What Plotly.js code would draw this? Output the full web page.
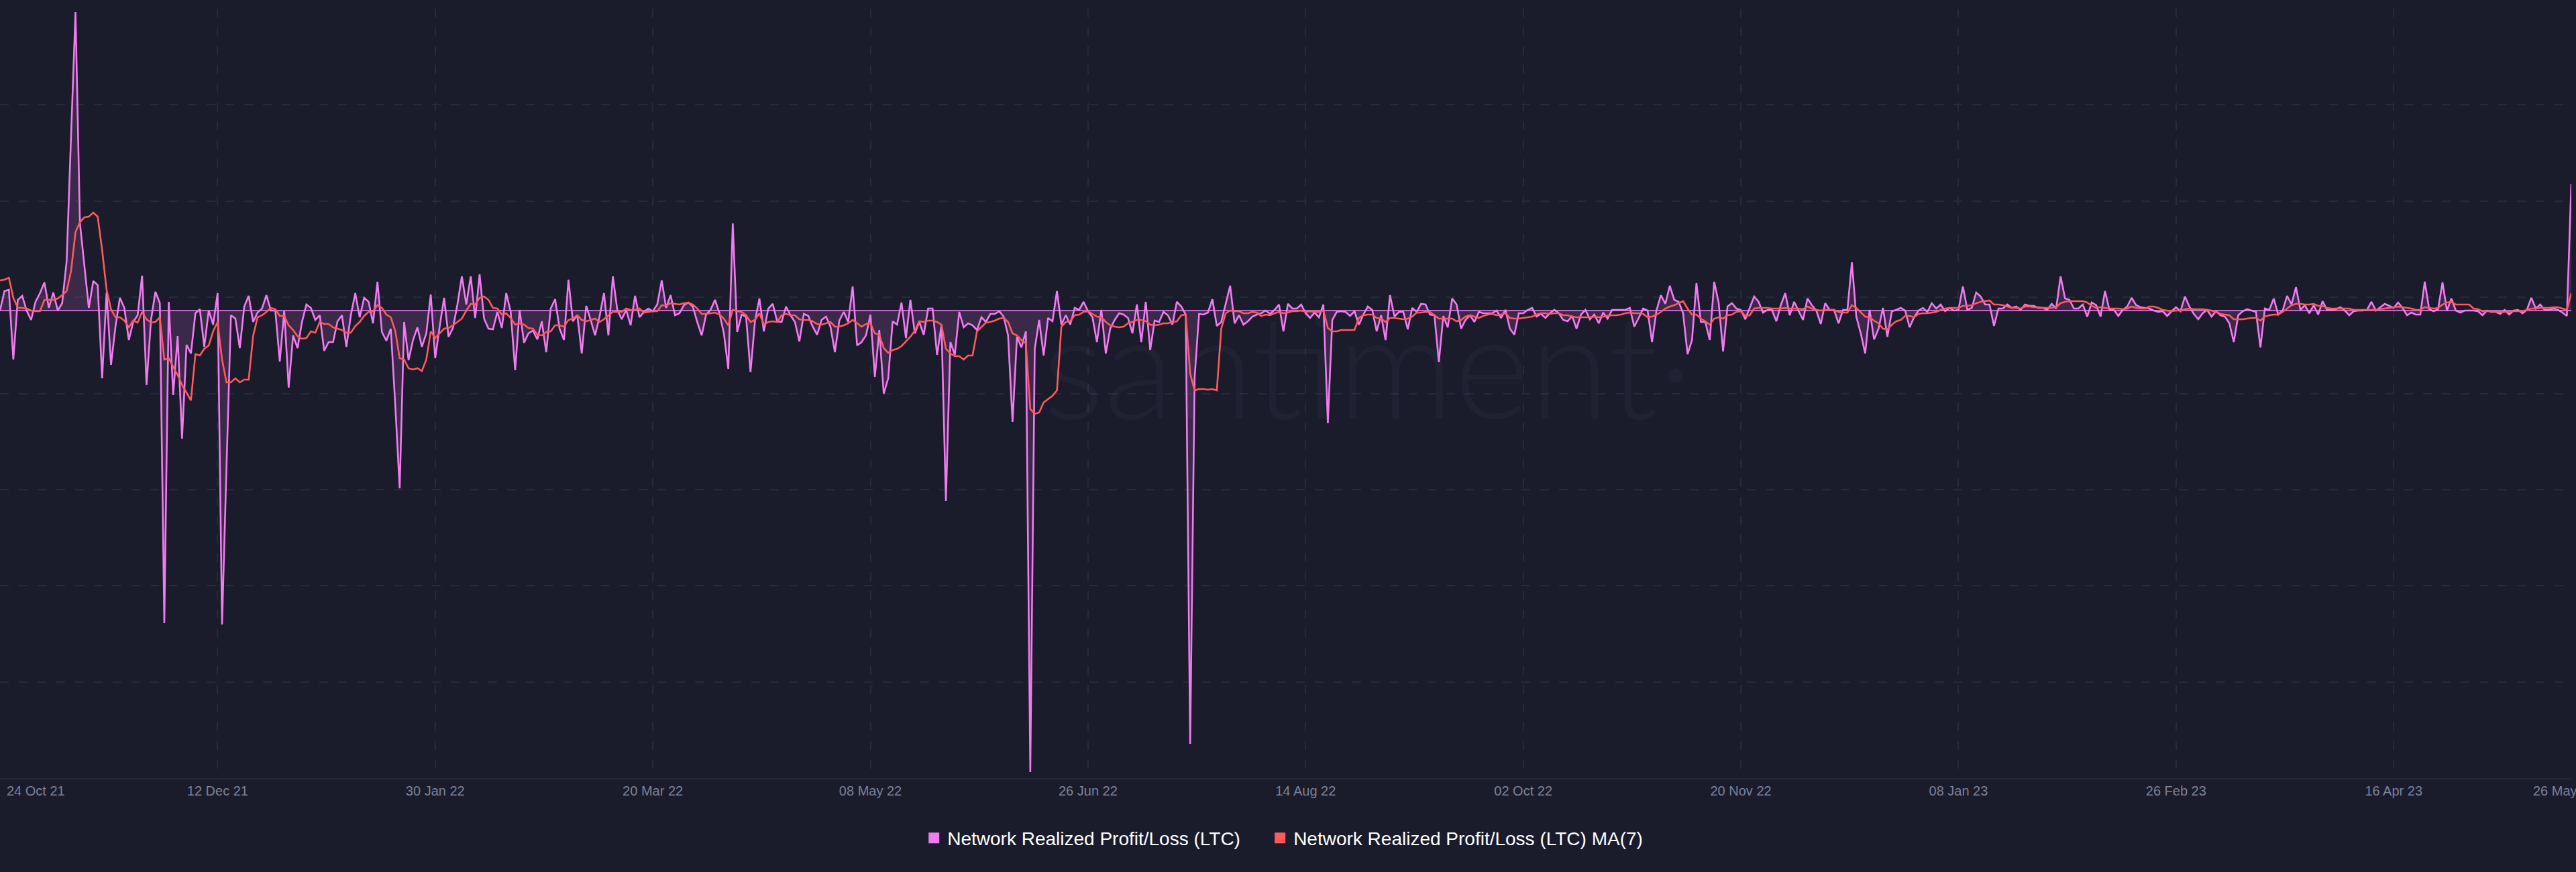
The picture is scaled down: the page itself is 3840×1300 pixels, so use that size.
<!DOCTYPE html>
<html>
<head>
<meta charset="utf-8">
<script src="https://cdn.plot.ly/plotly-3.0.1.min.js"></script>
<style>
html,body{margin:0;padding:0;background:#1a1c2c;}
#chart{width:3840px;height:1300px;}
</style>
</head>
<body>
<div id="chart"></div>
<script>
// ---- data ----
const startDate = '2021-10-24';   // first daily point
const dayCount = 580;              // daily points up to 26 May 23

const tickDates = ['2021-10-24','2021-12-12','2022-01-30','2022-03-20','2022-05-08','2022-06-26','2022-08-14','2022-10-02','2022-11-20','2023-01-08','2023-02-26','2023-04-16'];
const tickLabels = ['24 Oct 21','12 Dec 21','30 Jan 22','20 Mar 22','08 May 22','26 Jun 22','14 Aug 22','02 Oct 22','20 Nov 22','08 Jan 23','26 Feb 23','16 Apr 23'];
const lastLabel = '26 May 23';

const seriesNames = ['Network Realized Profit/Loss (LTC)', 'Network Realized Profit/Loss (LTC) MA(7)'];

// Network Realized Profit/Loss (LTC), daily (relative units)
const profitLoss = [
 0,0.29,0.31,-0.73,0.16,0.22,0,-0.14,0.13,0.26,
 0.42,0.04,0.27,0,0.11,0.73,2.6,4.45,1.3,0.69,
 0.04,0.44,0.38,-1.01,0.27,-0.81,-0.24,0.19,0.04,-0.44,
 -0.17,-0.07,0.52,-1.11,-0.14,0.28,0.11,-4.66,0.13,-1.26,
 -0.38,-1.91,-0.51,-0.64,-0.04,0.02,-0.54,0,-0.21,0.26,
 -4.68,-2.34,-0.07,-0.12,-0.56,0.06,0.22,-0.17,-0.03,0.03,
 0.23,0,0,-0.76,0,-1.15,-0.37,-0.56,-0.17,0.09,
 0.04,-0.14,-0.07,-0.6,-0.47,-0.47,-0.16,-0.07,-0.54,-0.07,
 0.26,-0.1,0.19,0.13,-0.19,0.43,-0.32,-0.45,-0.27,-1.4,
 -2.65,-0.17,-0.74,-0.44,-0.25,-0.54,-0.34,0.24,-0.71,-0.24,
 0.19,-0.39,-0.26,0.09,0.51,0.09,0.51,-0.11,0.54,-0.12,
 -0.27,-0.28,-0.02,-0.26,0.26,-0.02,-0.89,0.01,-0.48,-0.34,
 -0.3,-0.43,-0.16,-0.62,0.03,0.17,-0.27,-0.44,0.46,-0.16,
 -0.07,-0.64,0.07,-0.14,-0.37,-0.09,0.26,-0.37,0.51,0.01,
 -0.13,0.01,-0.22,0.22,-0.1,-0.02,0.03,-0.01,0.09,0.45,
 0.04,0.23,-0.07,-0.04,0.08,0.12,0.06,-0.17,-0.37,-0.06,
 0.01,0.16,-0.04,-0.34,-0.87,1.3,-0.32,-0.06,-0.09,-0.92,
 -0.16,0.18,-0.31,0.03,0.1,-0.16,-0.17,0.06,-0.07,-0.17,
 -0.46,-0.05,-0.08,-0.24,-0.36,-0.14,-0.09,-0.24,-0.62,-0.15,
 -0.02,-0.17,0.36,-0.52,-0.47,-0.37,-0.06,-0.99,-0.29,-1.24,
 -1.01,-0.16,-0.21,0.12,-0.41,0.16,-0.34,-0.17,-0.36,0.03,
 0.03,-0.66,-0.22,-2.84,-0.47,-0.66,-0.02,-0.25,-0.19,-0.22,
 -0.29,-0.1,-0.17,-0.05,-0.05,-0.01,-0.09,-0.37,-1.66,-0.39,
 -0.55,-0.31,-6.88,-0.57,-0.14,-0.67,-0.11,-0.16,0.29,-0.21,
 -0.07,-0.21,0.04,0.01,0.13,-0.01,-0.1,-0.47,0.01,-0.64,
 -0.27,-0.14,-0.04,-0.06,-0.11,-0.34,0.09,-0.47,0.13,-0.59,
 -0.15,-0.17,-0.02,-0.07,-0.21,0.13,0.06,-0.06,-6.46,-1.0,
 -0.05,-0.06,-0.03,0.17,-0.23,-0.17,0.11,0.37,-0.19,-0.07,
 -0.21,-0.16,-0.09,-0.06,-0.04,0,-0.05,0.01,0.09,-0.31,
 0.1,0.03,0.03,0.09,-0.04,-0.11,-0.03,-0.1,0.09,-1.68,
 -0.14,-0.02,-0.01,-0.02,-0.08,-0.01,-0.21,-0.06,0.06,0.01,
 -0.31,-0.07,-0.44,0.23,-0.09,-0.02,-0.02,-0.28,0.04,-0.02,
 0.1,0.09,-0.06,-0.07,-0.77,-0.08,-0.25,0.18,0.09,-0.27,
 -0.14,-0.07,-0.17,-0.02,-0.04,-0.04,-0.04,0,-0.11,0.01,
 -0.27,-0.36,-0.04,-0.04,0.01,0.04,-0.09,-0.05,-0.11,-0.04,
 0.01,-0.04,-0.14,-0.16,-0.08,-0.27,-0.06,0.01,-0.13,-0.06,
 -0.19,-0.03,-0.12,0.01,0.01,0.01,0.01,0.04,-0.24,-0.11,
 0.03,0,-0.47,0,0.23,0.1,0.37,0.16,0.13,-0.04,
 -0.65,-0.44,0.41,-0.17,-0.17,-0.44,0.43,0.12,-0.61,0.06,
 0.11,0.03,0.01,-0.13,0.04,0.21,0.13,-0.03,0.01,0.01,
 -0.16,0.08,0.26,-0.07,0.13,-0.01,-0.14,0.18,0.08,0,
 -0.2,0.11,0.01,0.01,-0.19,0.01,0.01,0.72,-0.09,-0.34,
 -0.64,0.01,-0.43,-0.27,0.04,-0.39,-0.01,0.01,0.04,0,
 -0.25,-0.1,0,0.04,-0.02,0.11,0.03,0.09,-0.01,0.04,
 0,0.01,0.36,0.01,0.04,0.27,0.21,0.09,0.09,-0.23,
 0.03,0.03,0.09,0.04,0.06,0.01,0.09,0.07,0.07,0.04,
 0.04,0.01,0.1,0.03,0.51,0.18,0.16,0.03,0.03,0.09,
 -0.09,0.12,0.08,-0.09,0.29,0.01,0.01,-0.08,0.01,0.06,
 0.19,0.08,0.05,0.04,0.03,0,-0.02,-0.01,-0.08,-0.01,
 0.05,-0.01,0.21,0.06,-0.05,-0.13,-0.04,0.01,-0.09,-0.01,
 -0.07,-0.09,-0.19,-0.47,-0.07,-0.01,0.02,0,-0.02,-0.55,
 0.03,0.01,0.18,-0.06,0,0.22,0.09,0.35,0.01,0.08,
 -0.04,0.08,-0.06,0.14,0.01,0.01,0.02,0.05,0,-0.07,
 -0.01,0,0,0.01,0.13,0,0.05,0.1,0.07,0.04,
 0.12,0.04,-0.07,-0.03,-0.06,-0.06,0.43,0.02,-0.01,0.02,
 0.42,0,0.18,0,-0.03,0,0,0,-0.01,-0.07,
 0,-0.02,-0.02,-0.05,0.01,-0.06,0,0.01,-0.04,0.01,
 0.19,0.03,0.09,0.01,0.01,0.03,0.01,-0.03,-0.08,1.89
];

// 7-day moving average as drawn on the chart
const profitLossMA7 = [
 0.45,0.46,0.49,0.19,0.04,0.04,0.03,0,-0.01,-0.01,
 0.16,0.16,0.16,0.18,0.23,0.29,0.59,1.17,1.32,1.39,
 1.40,1.46,1.40,0.90,0.31,0.02,-0.1,-0.1,-0.15,-0.25,
 -0.15,-0.18,-0.02,-0.13,-0.18,-0.17,-0.1,-0.73,-0.71,-0.84,
 -0.96,-1.11,-1.22,-1.34,-0.65,-0.67,-0.57,-0.52,-0.31,-0.17,
 -0.73,-1.07,-1.07,-1.01,-1.07,-1.03,-1.03,-0.38,-0.1,-0.07,
 -0.02,0.04,0.02,-0.08,-0.08,-0.22,-0.29,-0.38,-0.42,-0.41,
 -0.31,-0.33,-0.17,-0.2,-0.2,-0.25,-0.27,-0.29,-0.33,-0.33,
 -0.23,-0.17,-0.08,-0.02,-0.01,0.08,0.04,-0.06,-0.1,-0.3,
 -0.71,-0.73,-0.86,-0.88,-0.86,-0.9,-0.73,-0.31,-0.41,-0.34,
 -0.27,-0.26,-0.22,-0.17,-0.12,0,0.1,0.09,0.19,0.21,
 0.16,0.04,0.03,-0.06,-0.04,-0.11,-0.21,-0.19,-0.21,-0.26,
 -0.27,-0.36,-0.37,-0.32,-0.31,-0.22,-0.22,-0.24,-0.14,-0.12,
 -0.07,-0.14,-0.16,-0.14,-0.12,-0.17,-0.13,-0.07,-0.02,-0.02,
 -0.02,0.03,0.01,0.01,0.03,-0.03,-0.02,-0.01,-0.01,0.08,
 0.07,0.11,0.1,0.09,0.11,0.12,0.09,0.03,-0.05,-0.05,
 -0.04,-0.03,-0.06,-0.12,-0.22,0.01,-0.01,-0.02,-0.07,-0.17,
 -0.14,-0.04,-0.21,-0.17,-0.16,-0.17,-0.07,-0.05,-0.07,-0.07,
 -0.13,-0.14,-0.14,-0.16,-0.2,-0.21,-0.19,-0.17,-0.24,-0.24,
 -0.22,-0.19,-0.14,-0.19,-0.24,-0.2,-0.19,-0.34,-0.36,-0.56,
 -0.63,-0.59,-0.57,-0.53,-0.46,-0.39,-0.3,-0.16,-0.17,-0.15,
 -0.15,-0.17,-0.21,-0.57,-0.64,-0.68,-0.68,-0.73,-0.67,-0.67,
 -0.31,-0.25,-0.18,-0.17,-0.15,-0.12,-0.11,-0.17,-0.34,-0.37,
 -0.44,-0.49,-1.47,-1.54,-1.52,-1.37,-1.32,-1.27,-1.19,-0.24,
 -0.17,-0.16,-0.07,-0.06,-0.02,-0.01,-0.05,-0.09,-0.1,-0.17,
 -0.22,-0.24,-0.25,-0.24,-0.19,-0.17,-0.14,-0.14,-0.16,-0.21,
 -0.22,-0.21,-0.19,-0.19,-0.17,-0.16,-0.07,-0.06,-0.94,-1.19,
 -1.17,-1.17,-1.18,-1.17,-1.19,-0.27,-0.04,0,-0.01,-0.01,
 -0.04,-0.04,-0.02,-0.03,-0.08,-0.06,-0.07,-0.04,-0.02,-0.04,
 -0.03,-0.01,-0.01,0,-0.02,-0.01,-0.02,-0.02,0,-0.26,
 -0.31,-0.31,-0.29,-0.29,-0.29,-0.29,-0.11,-0.07,-0.06,-0.06,
 -0.11,-0.12,-0.17,-0.11,-0.11,-0.12,-0.13,-0.12,-0.09,-0.03,
 -0.03,-0.02,-0.02,-0.07,-0.12,-0.12,-0.12,-0.12,-0.16,-0.14,
 -0.09,-0.07,-0.09,-0.11,-0.08,-0.06,-0.05,-0.07,-0.06,-0.04,
 -0.11,-0.12,-0.12,-0.11,-0.1,-0.09,-0.06,-0.04,-0.04,-0.05,
 -0.04,-0.04,-0.07,-0.07,-0.09,-0.1,-0.1,-0.1,-0.1,-0.09,
 -0.1,-0.09,-0.08,-0.07,-0.07,-0.06,-0.04,-0.03,-0.04,-0.04,
 -0.05,-0.1,-0.09,-0.06,-0.02,0.03,0.06,0.08,0.11,0.14,
 0.03,-0.06,-0.06,-0.12,-0.16,-0.21,-0.12,-0.1,-0.12,-0.07,
 -0.06,-0.02,-0.01,-0.08,-0.07,0.03,0.04,0.04,0.04,0.03,
 0.03,0.03,0.04,0.03,0.03,0.03,0.02,0.06,0.03,0.01,
 0,0.01,0.01,0.01,-0.02,-0.03,-0.03,0.08,0.04,-0.02,
 -0.09,-0.1,-0.15,-0.19,-0.27,-0.28,-0.21,-0.16,-0.14,-0.08,
 -0.08,-0.1,-0.05,-0.04,-0.04,-0.03,-0.02,0.01,0.03,0.04,
 0.04,0.04,0.07,0.07,0.08,0.11,0.13,0.14,0.15,0.09,
 0.09,0.08,0.06,0.04,0.04,0.03,0.06,0.06,0.05,0.05,
 0.04,0.04,0.04,0.05,0.11,0.13,0.14,0.14,0.14,0.14,
 0.12,0.07,0.04,0.05,0.04,0.03,0.03,0.03,0.02,0.03,
 0.06,0.04,0.03,0.03,0.06,0.06,0.04,0.01,0,-0.01,
 0,0,0.02,0.03,0.02,0.02,0.02,0.01,0,-0.02,
 -0.05,-0.06,-0.07,-0.13,-0.13,-0.13,-0.12,-0.11,-0.11,-0.15,
 -0.09,-0.07,-0.06,-0.06,-0.02,0.03,0.08,0.1,0.1,0.09,
 0.09,0.1,0.07,0.07,0.04,0.03,0.03,0.03,0.03,0.03,
 0.01,0.01,0.01,0.01,0.01,0.01,0.02,0.03,0.04,0.05,
 0.06,0.05,0.04,0.03,0.01,0.01,0.05,0.04,0.03,0.04,
 0.09,0.12,0.13,0.09,0.09,0.09,0.09,0.03,0.02,-0.01,
 -0.01,-0.01,-0.02,-0.02,-0.02,-0.02,-0.01,-0.01,-0.01,0.01,
 0.03,0.03,0.04,0.04,0.04,0.05,0.05,0.03,0.01,0.26
];

// ---- build dates ----
function buildDates(start, n) {
  const out = [];
  const d0 = new Date(start + 'T00:00:00Z');
  for (let i = 0; i < n; i++) {
    const d = new Date(d0.getTime() + i * 86400000);
    out.push(d.toISOString().slice(0, 10));
  }
  return out;
}
const dates = buildDates(startDate, dayCount);

// ---- styles ----
const BG = '#1a1c2c';
const GRID = '#262a3b';
const PINK = '#f07cf0';
const RED = '#ff5a5a';
const FONT = 'Liberation Sans, Arial, sans-serif';
const LEGEND_FONT = { family: FONT, size: 28, color: '#ffffff' };

const yMax = 4.5, yMin = -6.97;

const traces = [
  {
    x: dates, y: profitLoss, type: 'scatter', mode: 'lines',
    line: { color: PINK, width: 2.6 },
    fill: 'tozeroy', fillcolor: 'rgba(240,124,240,0.15)',
    showlegend: false, hoverinfo: 'skip'
  },
  {
    x: dates, y: profitLossMA7, type: 'scatter', mode: 'lines',
    line: { color: RED, width: 2.6 },
    showlegend: false, hoverinfo: 'skip'
  },
  { x: [null], y: [null], type: 'scatter', mode: 'markers', name: seriesNames[0],
    marker: { symbol: 'square', size: 18, color: PINK }, showlegend: true, legend: 'legend', hoverinfo: 'skip' },
  { x: [null], y: [null], type: 'scatter', mode: 'markers', name: seriesNames[1],
    marker: { symbol: 'square', size: 18, color: RED }, showlegend: true, legend: 'legend2', hoverinfo: 'skip' }
];

const layout = {
  width: 3840, height: 1300,
  paper_bgcolor: BG, plot_bgcolor: BG,
  margin: { l: 0, r: 7, t: 13, b: 140 },
  hovermode: false,
  showlegend: true,
  legend: {
    orientation: 'h', x: 0.358, xanchor: 'left', y: -0.078, yanchor: 'middle',
    font: LEGEND_FONT, bgcolor: 'rgba(0,0,0,0)', itemclick: false, itemdoubleclick: false
  },
  legend2: {
    orientation: 'h', x: 0.4926, xanchor: 'left', y: -0.078, yanchor: 'middle',
    font: LEGEND_FONT, bgcolor: 'rgba(0,0,0,0)', itemclick: false, itemdoubleclick: false
  },
  xaxis: {
    type: 'date', range: [dates[0], dates[dates.length - 1]],
    tickmode: 'array', tickvals: tickDates,
    ticktext: tickLabels.map((t, i) => i === 0 ? '' : t),
    showgrid: true, gridcolor: GRID, gridwidth: 2, griddash: '13px,15px',
    showline: true, linecolor: '#252837', linewidth: 2,
    ticks: '', zeroline: false,
    tickfont: { family: FONT, size: 20, color: '#7b8299' },
    fixedrange: true
  },
  yaxis: {
    range: [yMin, yMax], tickmode: 'linear', tick0: yMin, dtick: (yMax - yMin) / 8,
    showticklabels: false, ticks: '',
    showgrid: true, gridcolor: GRID, gridwidth: 2, griddash: '13px,15px',
    zeroline: true, zerolinecolor: '#b968c4', zerolinewidth: 2,
    showline: false, fixedrange: true
  },
  annotations: [
    { text: tickLabels[0], xref: 'x', yref: 'paper', x: dates[0], y: 0,
      xanchor: 'left', yanchor: 'top', xshift: 8, yshift: -6, showarrow: false,
      font: { family: FONT, size: 20, color: '#7b8299' } },
    { text: lastLabel, xref: 'x', yref: 'paper', x: dates[dates.length - 1], y: 0,
      xanchor: 'center', yanchor: 'top', xshift: -11, yshift: -6, showarrow: false,
      font: { family: FONT, size: 20, color: '#7b8299' } },
    { text: 'santiment·', xref: 'paper', yref: 'paper', x: 0.532, y: 0.54,
      xanchor: 'center', yanchor: 'middle', showarrow: false,
      font: { family: 'Lato, sans-serif', size: 216, weight: 300, color: 'rgba(200,210,255,0.038)' } }
  ]
};

Plotly.newPlot('chart', traces, layout, { staticPlot: true, displayModeBar: false });
</script>
</body>
</html>
